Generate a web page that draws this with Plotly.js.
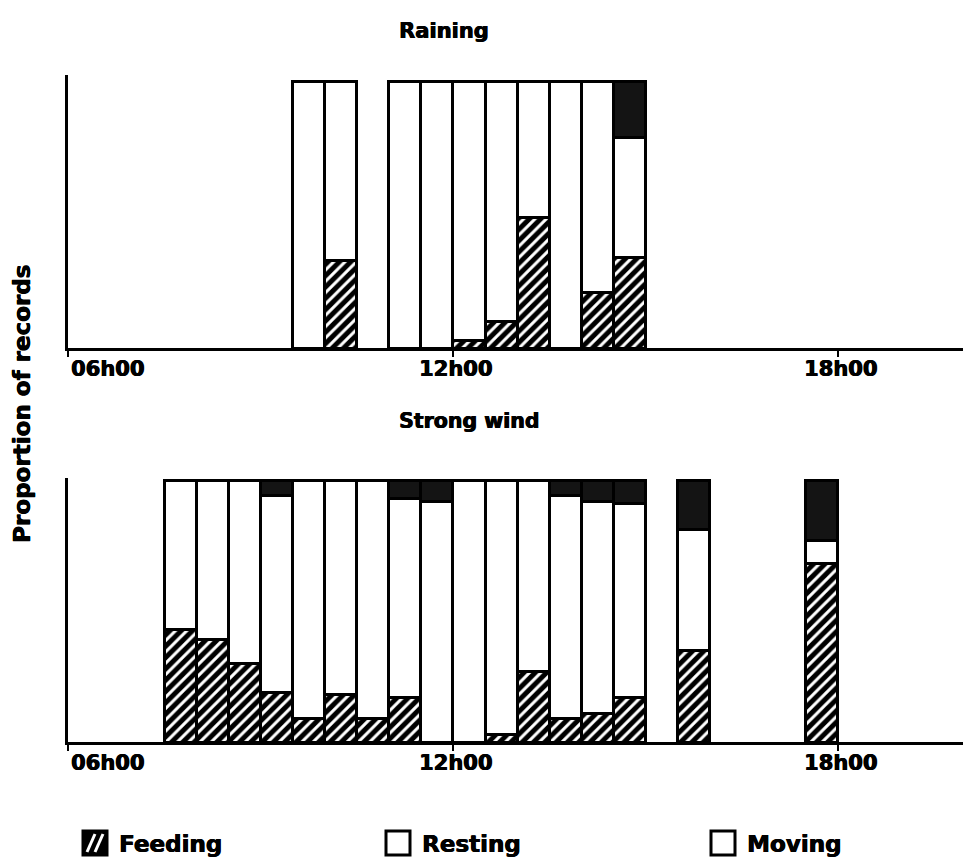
<!DOCTYPE html>
<html>
<head>
<meta charset="utf-8">
<script src="https://cdn.plot.ly/plotly-3.0.1.min.js"></script>
<style>
  html, body { margin: 0; padding: 0; background: #fff; }
  #chart { width: 963px; height: 866px; }
</style>
</head>
<body>
<div id="chart"></div>
<script>
// Half-hour observation slots (start hour of each slot)
const rainSlots = [9.5, 10, 11, 11.5, 12, 12.5, 13, 13.5, 14, 14.5];
const rainFeeding = [0, 0.33, 0, 0, 0.03, 0.10, 0.49, 0, 0.21, 0.34];
const rainResting = [1, 0.67, 1, 1, 0.97, 0.90, 0.51, 1, 0.79, 0.45];
const rainMoving  = [0, 0, 0, 0, 0, 0, 0, 0, 0, 0.21];

const windSlots = [7.5, 8, 8.5, 9, 9.5, 10, 10.5, 11, 11.5, 12, 12.5, 13, 13.5, 14, 14.5, 15.5, 17.5];
const windFeeding = [0.43, 0.39, 0.30, 0.19, 0.09, 0.18, 0.09, 0.17, 0, 0, 0.03, 0.27, 0.09, 0.11, 0.17, 0.35, 0.68];
const windResting = [0.57, 0.61, 0.70, 0.75, 0.91, 0.82, 0.91, 0.76, 0.92, 1.0, 0.97, 0.73, 0.85, 0.81, 0.74, 0.46, 0.09];
const windMoving  = [0, 0, 0, 0.06, 0, 0, 0, 0.07, 0.08, 0, 0, 0, 0.06, 0.08, 0.09, 0.19, 0.23];

const tickVals = [6, 12, 18];
const tickText = ['06h00', '12h00', '18h00'];

const panelTitles = ['Raining', 'Strong wind'];
const activityNames = ['Feeding', 'Resting', 'Moving'];
const yTitle = 'Proportion of records';

// ---- styling ----
const W = 963, H = 866;
const FONT = 'DejaVu Sans';
const HEAVY = '0.6px 0 0 #000, -0.3px 0 0 #000';   // thickens the bold glyphs slightly
const px = v => v / W;          // pixel -> paper x
const py = v => (H - v) / H;    // pixel -> paper y
const outline = { color: '#000', width: 3 };

const styles = {
  Feeding: { color: '#000', line: outline,
             pattern: { shape: '/', bgcolor: '#000', fgcolor: '#fff', size: 8, solidity: 0.38 } },
  Resting: { color: '#fff', line: outline },
  Moving:  { color: '#141414', line: outline }
};

function stack(slots, series, xa, ya) {
  return series.map((vals, i) => ({
    type: 'bar',
    name: activityNames[i],
    x: slots,
    y: vals,
    width: 0.5,
    offset: 0,
    xaxis: xa,
    yaxis: ya,
    marker: styles[activityNames[i]],
    showlegend: false,
    hoverinfo: 'x+y+name'
  }));
}

const data = [
  ...stack(rainSlots, [rainFeeding, rainResting, rainMoving], 'x', 'y'),
  ...stack(windSlots, [windFeeding, windResting, windMoving], 'x2', 'y2')
];

const xBase = {
  range: [6, 19.95],
  domain: [px(68), 1],
  showline: true, linecolor: '#000', linewidth: 3,
  ticks: 'outside', ticklen: 6, tickwidth: 2, tickcolor: '#000',
  tickvals: tickVals, showticklabels: false,
  showgrid: false, zeroline: false, fixedrange: true
};
const yBase = {
  showline: true, linecolor: '#000', linewidth: 3,
  ticks: '', showticklabels: false,
  showgrid: false, zeroline: false, fixedrange: true
};

const annotations = [];
const boldFont = size => ({ family: FONT, size: size, color: '#000', weight: 700, shadow: HEAVY });

// time-of-day labels below each axis
[['y', 'x'], ['y2', 'x2']].forEach(([ya, xa]) => {
  tickVals.forEach((v, i) => {
    annotations.push({
      xref: xa, yref: ya + ' domain', x: v, y: 0,
      text: tickText[i], showarrow: false,
      xanchor: i === 0 ? 'left' : 'center', yanchor: 'top',
      xshift: i === 0 ? 1 : 3, yshift: -7,
      font: boldFont(21)
    });
  });
});

// panel titles
annotations.push({ xref: 'paper', yref: 'paper', x: px(397), y: py(31), text: panelTitles[0],
  showarrow: false, xanchor: 'left', yanchor: 'middle', font: boldFont(21) });
annotations.push({ xref: 'paper', yref: 'paper', x: px(397), y: py(421), text: panelTitles[1],
  showarrow: false, xanchor: 'left', yanchor: 'middle', font: boldFont(20.5) });

// shared y title
annotations.push({ xref: 'paper', yref: 'paper', x: px(22), y: py(404), text: yTitle,
  showarrow: false, textangle: -90, xanchor: 'center', yanchor: 'middle',
  font: boldFont(23) });

// legend: swatches + labels
const legendX = [83, 386, 711];
const legendFills = ['#000', '#fff', '#fff'];
const shapes = [];
activityNames.forEach((name, i) => {
  const x0 = legendX[i], x1 = x0 + 24, y0 = 831, y1 = 855;
  shapes.push({ type: 'rect', xref: 'paper', yref: 'paper',
    x0: px(x0), x1: px(x1), y0: py(y1), y1: py(y0),
    fillcolor: legendFills[i], line: { color: '#000', width: 3 } });
  annotations.push({ xref: 'paper', yref: 'paper', x: px(x1 + 10), y: py(844), text: name,
    showarrow: false, xanchor: 'left', yanchor: 'middle',
    font: boldFont(23) });
});
// hatch strokes inside the Feeding swatch
[[87, 95], [95, 103]].forEach(([a, b]) => {
  shapes.push({ type: 'line', xref: 'paper', yref: 'paper',
    x0: px(a), y0: py(852), x1: px(b), y1: py(834),
    line: { color: '#fff', width: 3 } });
});

const layout = {
  width: W, height: H,
  margin: { l: 0, r: 0, t: 0, b: 0 },
  paper_bgcolor: '#fff', plot_bgcolor: '#fff',
  barmode: 'stack',
  showlegend: false,
  font: { family: FONT, color: '#000' },
  xaxis: Object.assign({}, xBase, { anchor: 'y' }),
  yaxis: Object.assign({}, yBase, { anchor: 'x', range: [0, 1.026], domain: [py(348), py(75)] }),
  xaxis2: Object.assign({}, xBase, { anchor: 'y2' }),
  yaxis2: Object.assign({}, yBase, { anchor: 'x2', range: [0, 1.008], domain: [py(742), py(478)] }),
  annotations: annotations,
  shapes: shapes
};

Plotly.newPlot('chart', data, layout, { displayModeBar: false, staticPlot: true });
</script>
</body>
</html>
